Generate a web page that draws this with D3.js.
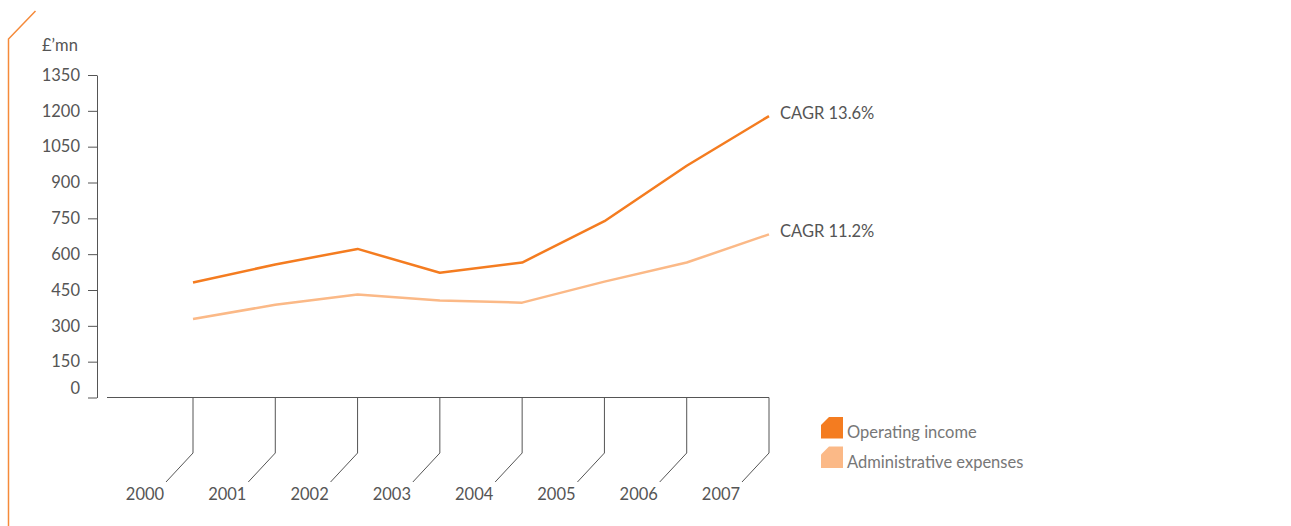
<!DOCTYPE html>
<html><head><meta charset="utf-8">
<script src="https://cdn.jsdelivr.net/npm/d3@7"></script>
<style>
html,body{margin:0;padding:0;background:#fff;}
svg{display:block;font-family:"Lato","Open Sans",sans-serif;}
</style></head>
<body>
<svg id="chart" width="1291" height="526"></svg>
<script>
const years = [2000, 2001, 2002, 2003, 2004, 2005, 2006, 2007];
const operatingIncome = [481, 557, 622, 522, 565, 738, 970, 1178];
const adminExpenses = [329, 388, 431, 406, 397, 485, 565, 683];
const yTicks = [0, 150, 300, 450, 600, 750, 900, 1050, 1200, 1350];
const seriesNames = ["Operating income", "Administrative expenses"];
const cagrLabels = ["CAGR 13.6%", "CAGR 11.2%"];
const colors = ["#f47c20", "#fbb987"];

const svg = d3.select("#chart");
const axisColor = "#555";
const textColor = "#555";
const fs = 16.5;

const x = d3.scaleLinear().domain([2000, 2007]).range([193, 769]);
const y = d3.scaleLinear().domain([0, 1350]).range([397.5, 75]);

// orange bracket
svg.append("path").attr("d", "M35.5,11 L8.5,39 L8.5,526")
  .attr("fill", "none").attr("stroke", "#f58a3a").attr("stroke-width", 1.5);

// unit label
svg.append("text").attr("x", 42).attr("y", 51).attr("font-size", fs).attr("fill", textColor).text("£’mn");

// y axis
const yAxis = d3.axisLeft(y).tickValues(yTicks).tickFormat(d3.format("d"))
  .tickSize(9).tickSizeOuter(0).tickPadding(8);
const yg = svg.append("g").attr("transform", "translate(97,0)").call(yAxis);
yg.select(".domain").attr("stroke", axisColor).attr("stroke-width", 1);
yg.selectAll(".tick line").attr("stroke", axisColor);
yg.selectAll(".tick text").attr("font-size", fs).attr("fill", textColor).attr("font-family", "Lato, 'Open Sans', sans-serif");
yg.selectAll(".tick").filter(d => d === 0).select("text").attr("y", -9);

// x axis
const xg = svg.append("g");
xg.append("line").attr("x1", 107).attr("x2", x(2007)).attr("y1", y(0)).attr("y2", y(0))
  .attr("stroke", axisColor).attr("stroke-width", 1);
const xt = xg.selectAll("g.xt").data(years).join("g").attr("class", "xt");
xt.append("path")
  .attr("d", d => `M${x(d)},${y(0)} L${x(d)},453 L${x(d) - 27},482`)
  .attr("fill", "none").attr("stroke", axisColor).attr("stroke-width", 1);
xt.append("text").attr("x", d => x(d) - 48).attr("y", 500)
  .attr("text-anchor", "middle").attr("font-size", fs).attr("fill", textColor).text(d => d);

// lines
const line = d3.line().x((d, i) => x(years[i])).y(d => y(d));
[operatingIncome, adminExpenses].forEach((s, k) => {
  svg.append("path").datum(s).attr("d", line).attr("fill", "none")
    .attr("stroke", colors[k]).attr("stroke-width", 2.5).attr("stroke-linejoin", "round");
  svg.append("text").attr("x", 780).attr("y", y(s[s.length - 1]) + 3)
    .attr("font-size", fs).attr("fill", textColor).text(cagrLabels[k]);
});

// legend
const legend = svg.append("g").attr("transform", "translate(821,417)");
seriesNames.forEach((n, k) => {
  const g = legend.append("g").attr("transform", `translate(0,${k * 29.5})`);
  g.append("path").attr("d", "M0,8 L8,0 L22,0 L22,21.5 L0,21.5 Z").attr("fill", colors[k]);
  g.append("text").attr("x", 26).attr("y", 21).attr("font-size", fs).attr("fill", "#777").text(n);
});
</script>
</body></html>
